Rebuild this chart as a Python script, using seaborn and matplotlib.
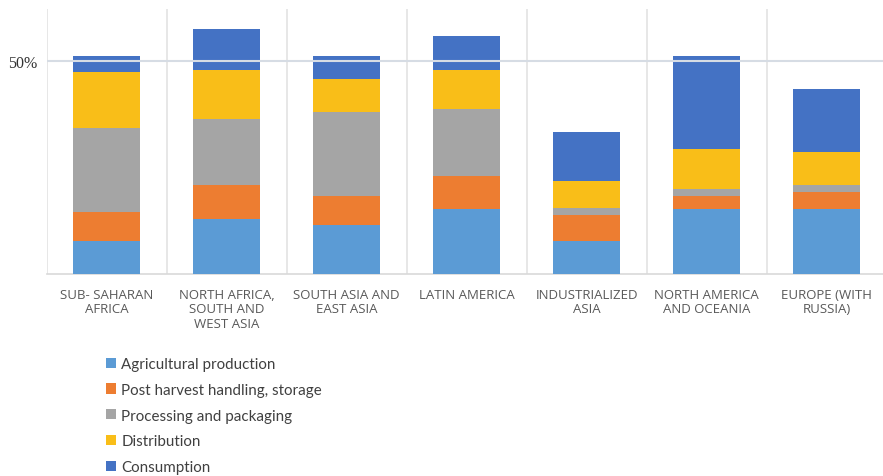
import matplotlib
matplotlib.use("Agg")
import matplotlib.pyplot as plt
from matplotlib.patches import Patch
import numpy as np
import pandas as pd
import seaborn as sns

categories = ["SUB- SAHARAN\nAFRICA", "NORTH AFRICA,\nSOUTH AND\nWEST ASIA",
              "SOUTH ASIA AND\nEAST ASIA", "LATIN AMERICA", "INDUSTRIALIZED\nASIA",
              "NORTH AMERICA\nAND OCEANIA", "EUROPE (WITH\nRUSSIA)"]
stages = ["Agricultural production", "Post harvest handling, storage",
          "Processing and packaging", "Distribution", "Consumption"]
agricultural = [7.8, 13.1, 11.6, 15.4, 7.8, 15.4, 15.4]
post_harvest = [6.9, 7.8, 6.9, 7.8, 6.2, 3.1, 3.9]
processing = [19.6, 15.6, 19.5, 15.5, 1.5, 1.6, 1.6]
distribution = [13.1, 11.5, 7.8, 9.3, 6.3, 9.4, 7.8]
consumption = [3.9, 9.5, 5.4, 7.9, 11.7, 21.7, 14.7]
colors = ["#5B9BD5", "#ED7D31", "#A5A5A5", "#F9BE18", "#4472C4"]

series = [agricultural, post_harvest, processing, distribution, consumption]

sns.set_style("white")
plt.rcParams['font.family'] = ['Lato', 'DejaVu Sans']

fig = plt.figure(figsize=(8.83, 4.77), dpi=100)
ax = fig.add_axes([46.7 / 883, 1 - 275.3 / 477, 840 / 883, (275.3 - 10) / 477])

df = pd.DataFrame({"category": categories})
cum = np.zeros(len(categories))
cums = []
for s in series:
    cum = cum + np.array(s)
    cums.append(cum.copy())

# draw from tallest cumulative to smallest so layers stack
for i in range(len(series) - 1, -1, -1):
    df["value"] = cums[i]
    sns.barplot(data=df, x="category", y="value", color=colors[i], width=0.56,
                saturation=1, ax=ax, zorder=3, edgecolor="none")

ax.set_xlim(-0.5, 6.5)
ax.set_ylim(0, 62.3)
ax.set_yticks([50])
ax.set_yticklabels(["50%"], fontfamily="Liberation Serif", fontsize=11.5, color="#333333",
                   va="center_baseline")
ax.tick_params(axis="y", length=0, pad=7)
ax.tick_params(axis="x", length=0, pad=10)
ax.set_xlabel("")
ax.set_ylabel("")
for lbl in ax.get_xticklabels():
    lbl.set_fontfamily(["Open Sans", "DejaVu Sans"])
    lbl.set_fontsize(9.5)
    lbl.set_color("#595959")
    lbl.set_linespacing(1.12)

for side in ["top", "right", "left"]:
    ax.spines[side].set_visible(False)
ax.spines["bottom"].set_color("#D9D9D9")
ax.spines["bottom"].set_linewidth(1.2)

ax.axhline(50, color="#D6DCE4", lw=1.5, zorder=4)
for b in np.arange(-0.5, 7.0, 1.0):
    ax.axvline(b, color="#E3E3E3", lw=1.2, zorder=1)

handles = [Patch(facecolor=c, edgecolor="none") for c in colors]
fig.legend(handles, stages, loc="upper left", bbox_to_anchor=(106 / 883, 1 - 358 / 477),
           frameon=False, fontsize=10.9, handlelength=0.65, handleheight=0.65,
           handletextpad=0.35, labelspacing=0.78, borderpad=0, borderaxespad=0,
           labelcolor="#404040")

fig.savefig("out.png", dpi=100)
